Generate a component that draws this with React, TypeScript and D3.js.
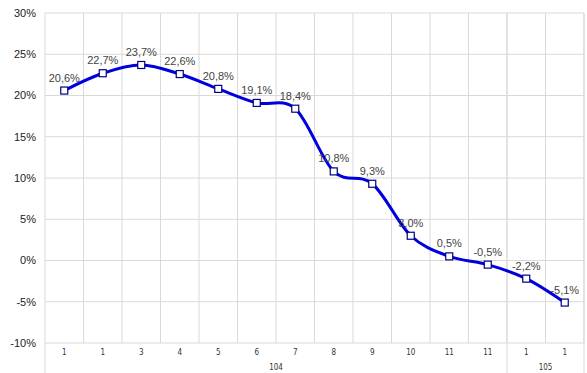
import React, { useRef, useEffect } from 'react';
import * as d3 from 'd3';

const months = ['1', '1', '3', '4', '5', '6', '7', '8', '9', '10', '11', '11', '1', '1'];
const groups = ['104', '105'];
const groupSizes = [12, 2];
const values = [20.6, 22.7, 23.7, 22.6, 20.8, 19.1, 18.4, 10.8, 9.3, 3.0, 0.5, -0.5, -2.2, -5.1];
const yTicks = [-10, -5, 0, 5, 10, 15, 20, 25, 30];

const W = 587;
const H = 373;

const App = () => {
  const chartRef = useRef<SVGSVGElement>(null);

  useEffect(() => {
    const chartDOM = chartRef.current;
    if (!chartDOM) return;
    const svg = d3.select(chartDOM);
    svg.selectAll('*').remove();

    const margin = { top: 13, right: 3, bottom: 30, left: 45 };
    const grid = '#d9d9d9';

    const idx = months.map((_, i) => i);
    const x = d3
      .scaleBand<number>()
      .domain(idx)
      .range([margin.left, W - margin.right])
      .padding(0);
    const y = d3.scaleLinear().domain([-10, 30]).range([H - margin.bottom, margin.top]);

    const g = svg.append('g');

    // horizontal grid + y labels
    yTicks.forEach(t => {
      g.append('line')
        .attr('x1', margin.left)
        .attr('x2', W - margin.right)
        .attr('y1', y(t))
        .attr('y2', y(t))
        .attr('stroke', grid)
        .attr('stroke-width', 1);
      g.append('text')
        .attr('x', 36)
        .attr('y', y(t))
        .attr('dy', '0.35em')
        .attr('text-anchor', 'end')
        .attr('font-family', 'Liberation Sans, Arial, sans-serif')
        .attr('font-size', 11)
        .attr('fill', '#222')
        .text(t + '%');
    });

    // vertical grid
    idx.forEach(i => {
      const xx = x(i)! + x.bandwidth();
      g.append('line')
        .attr('x1', xx)
        .attr('x2', xx)
        .attr('y1', margin.top)
        .attr('y2', y(-10))
        .attr('stroke', grid);
    });
    // left axis line
    g.append('line')
      .attr('x1', margin.left)
      .attr('x2', margin.left)
      .attr('y1', margin.top)
      .attr('y2', H)
      .attr('stroke', grid);

    // group separators + labels
    let start = 0;
    groups.forEach((name, gi) => {
      const end = start + groupSizes[gi];
      const x0 = x(start)!;
      const x1 = x(end - 1)! + x.bandwidth();
      g.append('line')
        .attr('x1', x1)
        .attr('x2', x1)
        .attr('y1', margin.top)
        .attr('y2', H)
        .attr('stroke', grid);
      g.append('text')
        .attr('x', (x0 + x1) / 2)
        .attr('y', 370)
        .attr('text-anchor', 'middle')
        .attr('font-family', 'DejaVu Sans Condensed, sans-serif')
        .attr('font-size', 8)
        .attr('fill', '#333')
        .text(name);
      start = end;
    });

    // month labels
    idx.forEach(i => {
      g.append('text')
        .attr('x', x(i)! + x.bandwidth() / 2)
        .attr('y', 355)
        .attr('text-anchor', 'middle')
        .attr('font-family', 'DejaVu Sans Condensed, sans-serif')
        .attr('font-size', 8)
        .attr('fill', '#333')
        .text(months[i]);
    });

    const cx = (i: number) => x(i)! + x.bandwidth() / 2;

    const line = d3
      .line<number>()
      .x((_, i) => cx(i))
      .y(d => y(d))
      .curve(d3.curveCardinal.tension(0));

    g.append('path')
      .datum(values)
      .attr('d', line)
      .attr('fill', 'none')
      .attr('stroke', '#0000dd')
      .attr('stroke-width', 3);

    values.forEach((v, i) => {
      g.append('rect')
        .attr('x', cx(i) - 3.5)
        .attr('y', y(v) - 3.5)
        .attr('width', 7)
        .attr('height', 7)
        .attr('fill', '#fff')
        .attr('stroke', '#000080')
        .attr('stroke-width', 1.2);
      g.append('text')
        .attr('x', cx(i))
        .attr('y', y(v) - 9)
        .attr('text-anchor', 'middle')
        .attr('font-family', 'Liberation Sans, Arial, sans-serif')
        .attr('font-size', 11)
        .attr('fill', '#444')
        .text(v.toFixed(1).replace('.', ',') + '%');
    });
  });

  return (
    <svg
      ref={chartRef}
      width={W}
      height={H}
      style={{ position: 'absolute', left: 0, top: 0, background: '#fff' }}
    />
  );
};

export default App;
